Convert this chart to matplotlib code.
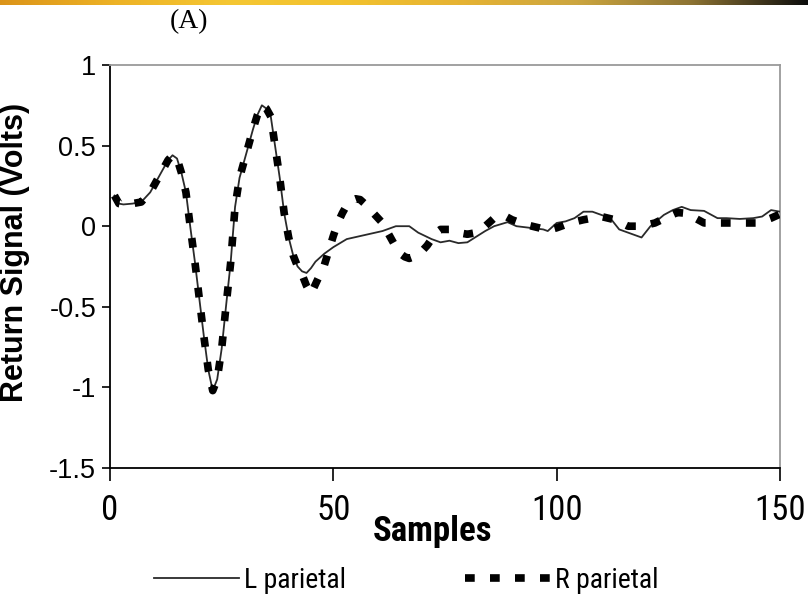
import numpy as np
import matplotlib
matplotlib.use("Agg")
import matplotlib.pyplot as plt
from matplotlib import font_manager as fm

# ---------------- data ----------------
samples_L = [1, 2, 3, 5, 7, 9, 11, 13, 14, 15, 16, 17, 18, 19, 20, 21, 22, 23, 24, 25,
             26, 27, 28, 29, 30, 31, 32, 33, 34, 35, 36, 37, 38, 39, 40, 41, 42, 43, 44,
             45, 46, 48, 50, 53, 57, 61, 64, 67, 69, 72, 74, 76, 78, 80, 82, 84, 86, 89,
             91, 94, 97, 98, 100, 102, 104, 106, 108, 110, 112, 114, 117, 119, 121, 124,
             126, 128, 130, 133, 136, 138, 141, 144, 146, 148, 150]
volts_L = [0.19, 0.14, 0.135, 0.14, 0.15, 0.21, 0.31, 0.41, 0.44, 0.42, 0.33, 0.21, -0.01,
           -0.22, -0.45, -0.68, -0.89, -1.02, -0.95, -0.76, -0.49, -0.23, 0.12, 0.30, 0.40,
           0.50, 0.60, 0.69, 0.75, 0.73, 0.68, 0.49, 0.30, 0.08, -0.07, -0.18, -0.25, -0.28,
           -0.29, -0.26, -0.22, -0.17, -0.13, -0.08, -0.055, -0.03, 0.0, 0.0, -0.04, -0.08,
           -0.10, -0.09, -0.105, -0.10, -0.065, -0.03, 0.0, 0.025, 0.0, -0.01, -0.02, -0.03,
           0.02, 0.03, 0.05, 0.09, 0.09, 0.07, 0.05, -0.02, -0.05, -0.07, 0.0, 0.07, 0.10,
           0.12, 0.10, 0.095, 0.05, 0.05, 0.045, 0.05, 0.06, 0.10, 0.09]

samples_R = [1, 2, 3, 5, 7, 9, 11, 13, 14, 15, 16, 17, 18, 19, 20, 21, 22, 23, 24, 25,
             26, 27, 28, 29, 30, 31, 32, 33, 34, 35, 36, 37, 38, 39, 40, 41, 42, 43, 44,
             45, 46, 47, 48, 49, 50, 51, 52, 53, 54, 55, 56, 57, 58, 59, 60, 61, 62, 63,
             64, 65, 66, 67, 68, 69, 70, 71, 72, 73, 74, 76, 78, 80, 82, 84, 86, 88, 90,
             93, 96, 98, 100, 103, 106, 110, 113, 116, 119, 122, 125, 127, 129, 131, 133,
             139, 145, 148, 150]
volts_R = [0.19, 0.14, 0.135, 0.14, 0.15, 0.21, 0.31, 0.41, 0.44, 0.42, 0.33, 0.21, -0.01,
           -0.22, -0.45, -0.68, -0.89, -1.02, -0.95, -0.76, -0.49, -0.23, 0.12, 0.30, 0.40,
           0.50, 0.60, 0.69, 0.75, 0.73, 0.68, 0.49, 0.30, 0.08, -0.07, -0.18, -0.25, -0.30,
           -0.37, -0.42, -0.36, -0.30, -0.24, -0.15, -0.06, 0.02, 0.08, 0.13, 0.16, 0.17,
           0.165, 0.14, 0.11, 0.08, 0.05, 0.02, -0.03, -0.08, -0.13, -0.17, -0.19, -0.20,
           -0.19, -0.17, -0.15, -0.12, -0.08, -0.04, -0.02, -0.02, -0.04, -0.05, -0.04, 0.0,
           0.05, 0.07, 0.04, 0.01, -0.01, -0.025, -0.01, 0.02, 0.04, 0.06, 0.04, 0.0, 0.0,
           0.02, 0.06, 0.085, 0.08, 0.05, 0.02, 0.02, 0.02, 0.05, 0.075]

series_names = ["L parietal", "R parietal"]
x_ticks = [0, 50, 100, 150]
y_ticks = [-1.5, -1, -0.5, 0, 0.5, 1]
y_tick_labels = ["-1.5", "-1", "-0.5", "0", "0.5", "1"]
x_label = "Samples"
y_label = "Return Signal (Volts)"
panel_label = "(A)"

# ---------------- fonts ----------------
names = {f.name for f in fm.fontManager.ttflist}
narrow = None
for cand in ["Roboto Condensed", "Liberation Sans Narrow", "Arial Narrow", "Open Sans Condensed"]:
    if cand in names:
        narrow = cand
        break
if narrow is None:
    narrow = "Liberation Sans"
plain = "Liberation Sans" if "Liberation Sans" in names else "DejaVu Sans"
serif = "Liberation Serif" if "Liberation Serif" in names else "DejaVu Serif"

plt.rcParams["lines.scale_dashes"] = False

W, H = 808, 601
fig = plt.figure(figsize=(W / 100, H / 100), dpi=100)
fig.patch.set_facecolor("white")

# decorative gradient strip at the very top
bar = fig.add_axes([0, 1 - 5 / H, 1, 5 / H])
grad_cols = np.array([
    [0.86, 0.58, 0.10], [0.93, 0.70, 0.15], [0.96, 0.78, 0.20], [0.95, 0.76, 0.18],
    [0.90, 0.70, 0.20], [0.80, 0.65, 0.25], [0.55, 0.45, 0.20], [0.05, 0.05, 0.05]])
pos = np.linspace(0, 1, len(grad_cols))
xs = np.linspace(0, 1, 400)
img = np.stack([np.interp(xs, pos, grad_cols[:, i]) for i in range(3)], axis=-1)[None, :, :]
bar.imshow(img, aspect="auto", extent=[0, 1, 0, 1])
bar.axis("off")

left, right = 110 / W, 780 / W
top, bottom = 1 - 65 / H, 1 - 468 / H
ax = fig.add_axes([left, bottom, right - left, top - bottom])

lL, = ax.plot(samples_L, volts_L, color="#2a2a2a", lw=1.3, zorder=3, label=series_names[0])
lR, = ax.plot(samples_R, volts_R, color="black", lw=5.5, zorder=4,
              linestyle=(0, (7.0, 11.0)), solid_capstyle="butt", dash_capstyle="butt",
              label=series_names[1])

ax.set_xlim(0, 150)
ax.set_ylim(-1.5, 1)
ax.set_xticks(x_ticks)
ax.set_yticks(y_ticks)
ax.set_yticklabels(y_tick_labels)

for s in ["left", "bottom"]:
    ax.spines[s].set_color("black")
    ax.spines[s].set_linewidth(1.3)
for s in ["top", "right"]:
    ax.spines[s].set_color("#9a9a9a")
    ax.spines[s].set_linewidth(1.3)

ax.tick_params(axis="y", direction="out", length=6, width=1.2, pad=4, labelsize=19.5)
ax.tick_params(axis="x", direction="out", length=9, width=1.2, pad=10, labelsize=25)
for t in ax.get_yticklabels():
    t.set_fontfamily(plain)
for t in ax.get_xticklabels():
    t.set_fontfamily(narrow)

ax.set_ylabel(y_label, fontsize=22, fontfamily=plain, fontweight="bold")
ax.yaxis.set_label_coords(-(110 - 30) / (780 - 110), (468 - 252) / (468 - 65))
ax.text((432 - 110) / (780 - 110), -(532 - 468) / (468 - 65), x_label,
        transform=ax.transAxes, ha="center", va="center",
        fontsize=25, fontweight="bold", fontfamily=narrow)

fig.text(189 / W, 1 - 22 / H, panel_label, ha="center", va="center", fontsize=20,
         fontfamily=serif)

leg = fig.legend(handles=[lL, lR], loc="center", bbox_to_anchor=(406 / W, 1 - 580 / H),
                 ncol=2, frameon=False, handlelength=3.05, handletextpad=0.18,
                 columnspacing=4.3, prop={"family": narrow, "size": 20})

fig.savefig("out.png", dpi=100)
